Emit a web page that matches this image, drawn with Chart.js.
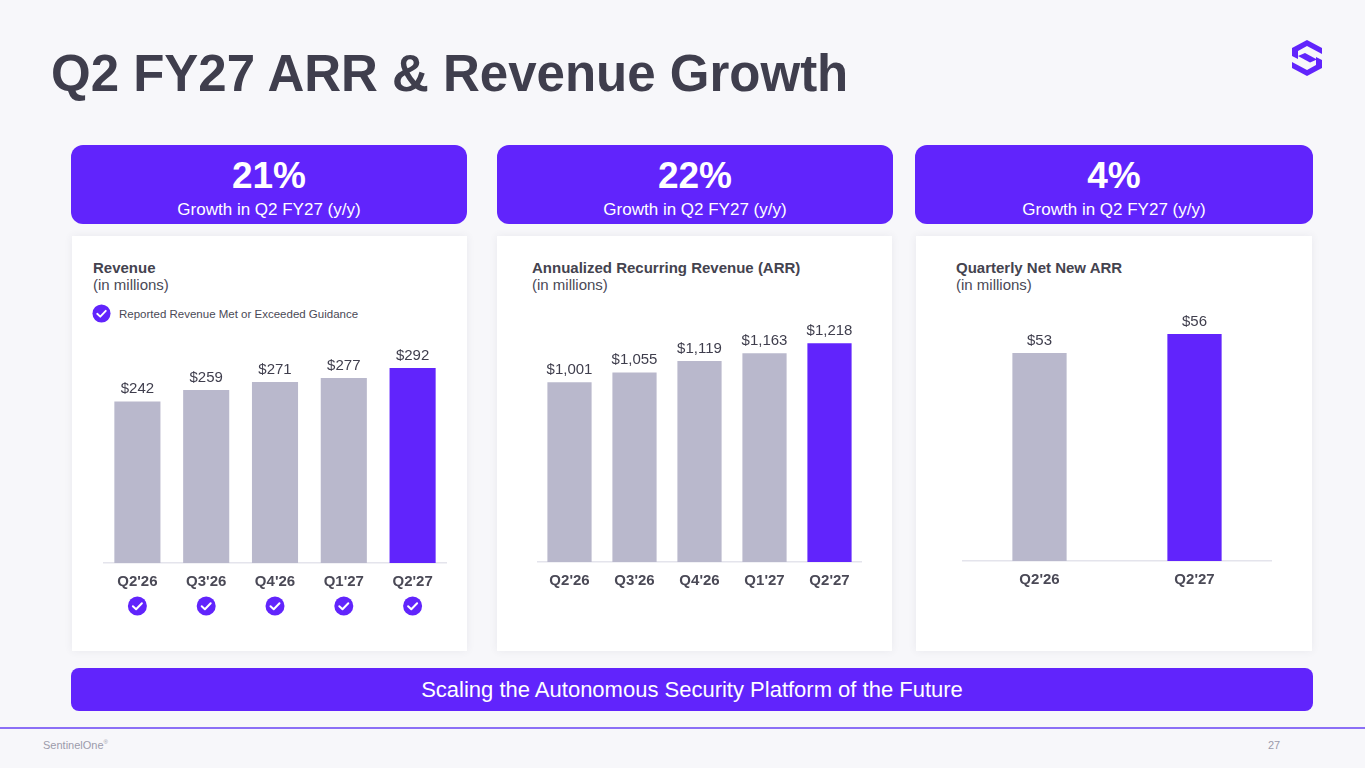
<!DOCTYPE html>
<html lang="en">

<head>
  <meta charset="UTF-8">
  <title>Q2 FY27 ARR & Revenue Growth</title>
  <script src="https://cdn.jsdelivr.net/npm/chart.js"></script>
  <style>
    html, body { margin: 0; padding: 0; }
    body {
      width: 1365px; height: 768px; position: relative; overflow: hidden;
      background: #f7f7fa; font-family: "Liberation Sans", Arial, sans-serif; color: #3f3e4d;
    }
    .abs { position: absolute; }
    .title { left: 51px; top: 44px; font-size: 51px; font-weight: bold; white-space: nowrap; }
    .kpi {
      position: absolute; top: 145px; height: 79px; background: #6124fc; border-radius: 12px;
      color: #fff; text-align: center;
    }
    .kpi .big { font-size: 37px; font-weight: bold; line-height: 37px; margin-top: 12px; }
    .kpi .small { font-size: 17px; line-height: 20px; margin-top: 6px; }
    .card {
      position: absolute; top: 236px; height: 415px; background: #fff;
      box-shadow: 0 0 8px rgba(60, 60, 90, 0.08);
    }
    .card-title { position: absolute; font-size: 15px; line-height: 17px; white-space: nowrap; }
    .card-title b { color: #44434f; }
    .card-title span { color: #4a4956; }
    .legend { left: 92px; top: 304px; font-size: 11.5px; color: #4a4956; white-space: nowrap; }
    .legend svg { vertical-align: middle; margin-right: 8px; }
    .legend span { vertical-align: middle; }
    .banner {
      left: 71px; top: 668px; width: 1242px; height: 43px; background: #6124fc; border-radius: 8px;
      color: #fff; font-size: 22px; line-height: 44px; text-align: center;
    }
    .rule { left: 0; top: 727px; width: 1365px; height: 1.5px; background: #8b6ff6; }
    .foot { top: 739px; font-size: 11px; color: #9c9bab; }
    canvas { position: absolute; }
  </style>
</head>

<body>
  <div class="abs title">Q2 FY27 ARR &amp; Revenue Growth</div>
  <svg class="abs" style="left:1290px;top:38px" width="36" height="40" viewBox="0 0 36 40">
    <path d="M2 10 L17 2 L32 10 L32 16 L17 8 L8 13 L8 21 L2 18 Z" fill="#6124fc" />
    <path d="M8 18 L15 15 L27 21.5 L20 24.5 Z" fill="#6124fc" />
    <path d="M32 30 L17 38 L2 30 L2 24 L17 32 L26 27 L26 19 L32 22 Z" fill="#6124fc" />
  </svg>

  <div class="kpi" style="left:71px;width:396px"><div class="big">21%</div><div class="small">Growth in Q2 FY27 (y/y)</div></div>
  <div class="kpi" style="left:497px;width:396px"><div class="big">22%</div><div class="small">Growth in Q2 FY27 (y/y)</div></div>
  <div class="kpi" style="left:915px;width:398px"><div class="big">4%</div><div class="small">Growth in Q2 FY27 (y/y)</div></div>

  <div class="card" style="left:72px;width:395px"></div>
  <div class="card" style="left:497px;width:395px"></div>
  <div class="card" style="left:916px;width:396px"></div>

  <div class="card-title" style="left:93px;top:259px"><b>Revenue</b><br><span>(in millions)</span></div>
  <div class="card-title" style="left:532px;top:259px"><b>Annualized Recurring Revenue (ARR)</b><br><span>(in millions)</span></div>
  <div class="card-title" style="left:956px;top:259px"><b>Quarterly Net New ARR</b><br><span>(in millions)</span></div>

  <div class="abs legend">
    <svg width="19" height="19" viewBox="0 0 20 20"><circle cx="10" cy="10" r="9.5" fill="#6124fc" /><path d="M5.5 10.3 L8.7 13.3 L14.5 7.2" stroke="#fff" stroke-width="2" fill="none" stroke-linecap="round" stroke-linejoin="round" /></svg><span>Reported Revenue Met or Exceeded Guidance</span>
  </div>

  <canvas id="revenueChart" style="left:103px;top:290px;width:344px;height:350px" width="344" height="350"></canvas>
  <canvas id="arrChart" style="left:537px;top:290px;width:325px;height:320px" width="325" height="320"></canvas>
  <canvas id="netChart" style="left:962px;top:290px;width:310px;height:320px" width="310" height="320"></canvas>

  <div class="abs banner">Scaling the Autonomous Security Platform of the Future</div>
  <div class="abs rule"></div>
  <div class="abs foot" style="left:43px">SentinelOne<sup style="font-size:6px">®</sup></div>
  <div class="abs foot" style="left:1268px">27</div>

  <script>
    // data
    const revenueQuarters = ["Q2'26", "Q3'26", "Q4'26", "Q1'27", "Q2'27"];
    const revenueValues = [242, 259, 271, 277, 292];
    const guidanceMet = [true, true, true, true, true];

    const arrQuarters = ["Q2'26", "Q3'26", "Q4'26", "Q1'27", "Q2'27"];
    const arrValues = [1001, 1055, 1119, 1163, 1218];

    const netNewQuarters = ["Q2'26", "Q2'27"];
    const netNewValues = [53, 56];

    const purple = "#6124fc";
    const grey = "#b9b8cc";
    const fontFamily = '"Liberation Sans", Arial, sans-serif';

    // last bar is the current quarter
    const barColors = n => Array.from({ length: n }, (_, i) => i === n - 1 ? purple : grey);

    const valueLabels = {
      id: "valueLabels",
      afterDatasetsDraw(chart) {
        const ctx = chart.ctx;
        const meta = chart.getDatasetMeta(0);
        ctx.save();
        ctx.font = "15px " + fontFamily;
        ctx.fillStyle = "#3f3e4d";
        ctx.textAlign = "center";
        ctx.textBaseline = "bottom";
        meta.data.forEach((bar, i) => {
          const v = chart.data.datasets[0].data[i];
          ctx.fillText("$" + v.toLocaleString("en-US"), bar.x, bar.y - 5);
        });
        ctx.restore();
      }
    };

    const guidanceChecks = {
      id: "guidanceChecks",
      afterDraw(chart) {
        const ctx = chart.ctx;
        const xs = chart.scales.x;
        ctx.save();
        guidanceMet.forEach((ok, i) => {
          if (!ok) return;
          const x = xs.getPixelForTick(i), y = chart.chartArea.bottom + 43;
          ctx.beginPath();
          ctx.arc(x, y, 9.5, 0, Math.PI * 2);
          ctx.fillStyle = purple;
          ctx.fill();
          ctx.beginPath();
          ctx.moveTo(x - 4.5, y + 0.3);
          ctx.lineTo(x - 1.3, y + 3.3);
          ctx.lineTo(x + 4.5, y - 2.8);
          ctx.strokeStyle = "#fff";
          ctx.lineWidth = 2;
          ctx.lineCap = "round";
          ctx.lineJoin = "round";
          ctx.stroke();
        });
        ctx.restore();
      }
    };

    function makeChart(id, labels, values, yMin, yMax, barPct, bottomPad, extra) {
      return new Chart(document.getElementById(id), {
        type: "bar",
        data: {
          labels: labels,
          datasets: [{
            data: values,
            backgroundColor: barColors(values.length),
            barPercentage: barPct,
            categoryPercentage: 1
          }]
        },
        options: {
          responsive: false,
          animation: false,
          layout: { padding: { top: 0, bottom: bottomPad, left: 0, right: 0 } },
          plugins: { legend: { display: false }, tooltip: { enabled: false } },
          scales: {
            x: {
              grid: { display: false, drawTicks: false },
              border: { display: true, color: "#e4e4ec", width: 1.5 },
              ticks: { padding: 10, color: "#4a4956", font: { family: fontFamily, size: 15, weight: "bold" } }
            },
            y: { display: false, min: yMin, max: yMax }
          }
        },
        plugins: [valueLabels].concat(extra || [])
      });
    }

    makeChart("revenueChart", revenueQuarters, revenueValues, 0, 409, 0.67, 39, [guidanceChecks]);
    makeChart("arrChart", arrQuarters, arrValues, 0, 1515, 0.68, 10);
    makeChart("netChart", netNewQuarters, netNewValues, 20, 63, 0.35, 11);
  </script>
</body>

</html>
